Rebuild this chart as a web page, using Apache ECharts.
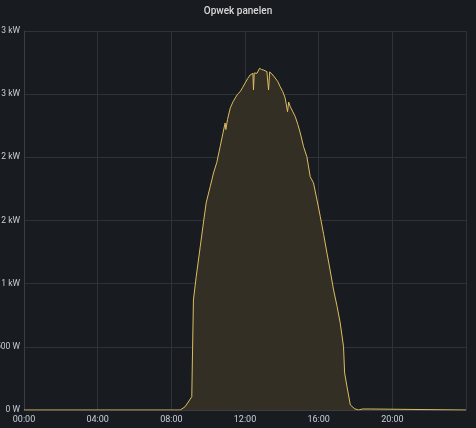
<!DOCTYPE html>
<html style="height: 100%">
<head>
<meta charset="utf-8">
<title>Opwek panelen</title>
<script src="https://cdn.jsdelivr.net/npm/echarts@6/dist/echarts.min.js"></script>
</head>
<body style="height: 100%; margin: 0; background: #181b1f">
<div id="container" style="width: 476px; height: 428px"></div>
<script type="text/javascript">
// uur van de dag (decimaal) en vermogen in W
var hours = [0, 8.48, 8.75, 9.11, 9.15, 9.2, 9.35, 9.57, 9.74, 9.89, 10.11, 10.29, 10.47, 10.65, 10.8, 10.92, 10.96, 11.05, 11.2, 11.35,
    11.47, 11.6, 11.74, 11.88, 12.01, 12.15, 12.28, 12.43, 12.46, 12.5, 12.65, 12.79, 12.9, 13.01, 13.19, 13.28, 13.34,
    13.46, 13.64, 13.78, 13.91, 14.05, 14.18, 14.31, 14.37, 14.46, 14.6, 14.73, 14.87, 15.0, 15.18, 15.36, 15.54, 15.72,
    15.91, 16.09, 16.27, 16.45, 16.63, 16.81, 17.0, 17.17, 17.35, 17.41, 17.54, 17.72, 17.95, 18.17, 18.37, 18.8, 18.9, 24];
var power = [0, 0, 26, 105, 451, 871, 1055, 1293, 1480, 1639, 1768, 1876, 1960, 2084, 2190, 2272, 2220, 2300, 2391, 2440,
    2470, 2500, 2520, 2555, 2589, 2625, 2652, 2665, 2533, 2668, 2665, 2705, 2695, 2691, 2678, 2533, 2676,
    2660, 2628, 2600, 2559, 2520, 2470, 2361, 2438, 2401, 2360, 2322, 2260, 2193, 2084, 2005, 1847, 1797,
    1662, 1530, 1390, 1243, 1100, 950, 820, 689, 501, 293, 184, 40, 10, 0, 8, 8, 0, 0];
var xTicks = ['00:00', '04:00', '08:00', '12:00', '16:00', '20:00'];

var seriesData = [];
for (var i = 0; i < hours.length; i++) {
    seriesData.push([hours[i], power[i]]);
}

var myChart = echarts.init(document.getElementById('container'));
var option = {
    backgroundColor: '#181b1f',
    animation: false,
    title: {
        text: 'Opwek panelen',
        left: 'center',
        top: 1,
        textStyle: { color: '#d8d9da', fontSize: 10, fontWeight: 500, fontFamily: 'Roboto' }
    },
    grid: { left: 24, right: 10, top: 31, bottom: 18, containLabel: false, outerBoundsMode: 'none' },
    xAxis: {
        type: 'value',
        min: 0,
        max: 24,
        interval: 4,
        axisLine: { show: true, lineStyle: { color: '#3a3d42' } },
        axisTick: { show: false },
        splitLine: { show: true, lineStyle: { color: '#2f3237' } },
        axisLabel: {
            color: '#c7d0d9', fontSize: 9, fontFamily: 'Roboto', margin: 5,
            showMaxLabel: false,
            formatter: function (v) { return xTicks[v / 4] || ''; }
        }
    },
    yAxis: {
        type: 'value',
        min: 0,
        max: 3000,
        interval: 500,
        axisLine: { show: true, lineStyle: { color: '#3a3d42' } },
        axisTick: { show: false },
        splitLine: { show: true, lineStyle: { color: '#2f3237' } },
        axisLabel: {
            color: '#c7d0d9', fontSize: 8.5, fontFamily: 'Roboto', margin: 4,
            formatter: function (v) {
                return v < 1000 ? v + ' W' : Math.round(v / 1000) + ' kW';
            }
        }
    },
    series: [{
        type: 'line',
        data: seriesData,
        showSymbol: false,
        lineStyle: { color: '#dcbd62', width: 1 },
        areaStyle: { color: '#342f25', opacity: 1 }
    }]
};
myChart.setOption(option);
</script>
</body>
</html>
